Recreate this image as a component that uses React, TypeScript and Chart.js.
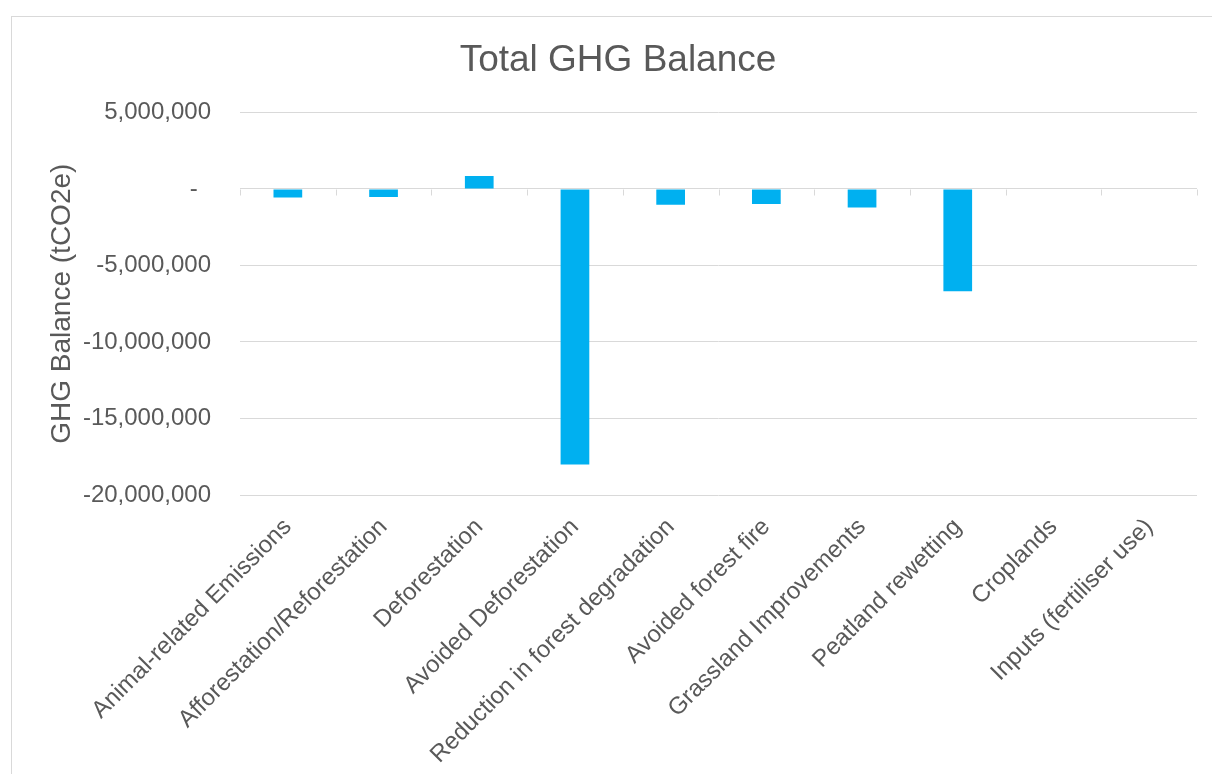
import React, { useEffect, useRef } from "react";
import { Chart, registerables } from "chart.js";

Chart.register(...registerables);

const categories: string[] = [
  "Animal-related Emissions",
  "Afforestation/Reforestation",
  "Deforestation",
  "Avoided Deforestation",
  "Reduction in forest degradation",
  "Avoided forest fire",
  "Grassland Improvements",
  "Peatland rewetting",
  "Croplands",
  "Inputs (fertiliser use)",
];

const ghgBalance: number[] = [
  -560000, -530000, 850000, -18000000, -1040000, -980000, -1220000, -6680000, 0, 0,
];

const yMin = -20000000;
const yMax = 5000000;
const yStep = 5000000;

const chartTitle = "Total GHG Balance";
const yAxisTitle = "GHG Balance (tCO2e)";

const FONT = "'Liberation Sans', Arial, Helvetica, sans-serif";
const TEXT = "#595959";
const GRID = "#d9d9d9";
const BAR = "#00B0F0";

const zeroTicks = {
  id: "zeroTicks",
  beforeDatasetsDraw(chart: any) {
    const { ctx } = chart;
    const xs = chart.scales.x;
    const ys = chart.scales.y;
    const y0 = Math.round(ys.getPixelForValue(0)) + 0.5;
    ctx.save();
    ctx.strokeStyle = GRID;
    ctx.lineWidth = 1;
    for (let i = 0; i <= categories.length; i++) {
      const px = Math.round(xs.getPixelForValue(i - 0.5)) + 0.5;
      ctx.beginPath();
      ctx.moveTo(px, y0);
      ctx.lineTo(px, y0 + 6);
      ctx.stroke();
    }
    ctx.restore();
  },
};

export default function App() {
  const ref = useRef<HTMLCanvasElement | null>(null);

  useEffect(() => {
    if (!ref.current) return;
    const chart = new Chart(ref.current, {
      type: "bar",
      data: {
        labels: categories,
        datasets: [
          {
            data: ghgBalance,
            backgroundColor: BAR,
            borderWidth: 0,
            barPercentage: 0.3,
            categoryPercentage: 1,
          },
        ],
      },
      plugins: [zeroTicks],
      options: {
        responsive: false,
        animation: false,
        events: [],
        layout: { padding: { left: 24, right: 0, top: 0, bottom: 0 } },
        plugins: {
          legend: { display: false },
          tooltip: { enabled: false },
          title: {
            display: true,
            text: chartTitle,
            color: TEXT,
            font: { family: FONT, size: 37, weight: "normal" },
            padding: { top: 39, bottom: 29 },
          },
        },
        scales: {
          x: {
            grid: { display: false },
            border: { display: false },
            ticks: {
              color: TEXT,
              font: { family: FONT, size: 24 },
              minRotation: 45,
              maxRotation: 45,
              autoSkip: false,
              padding: 10,
            },
            afterFit: (s: any) => {
              s.height = 279;
            },
          },
          y: {
            min: yMin,
            max: yMax,
            ticks: {
              stepSize: yStep,
              color: TEXT,
              font: { family: FONT, size: 24 },
              padding: 29,
              callback: (v: any) =>
                Number(v) === 0 ? "-  " : Number(v).toLocaleString("en-US"),
            },
            grid: { color: GRID, lineWidth: 1, drawTicks: false },
            border: { display: false },
            title: {
              display: true,
              text: yAxisTitle,
              color: TEXT,
              font: { family: FONT, size: 28 },
              padding: { top: 21, bottom: 0 },
            },
            afterFit: (s: any) => {
              s.width = 216;
            },
          },
          y2: {
            position: "right",
            display: true,
            grid: { display: false },
            border: { display: false },
            ticks: { display: false },
            afterFit: (s: any) => {
              s.width = 15;
            },
          },
        },
      } as any,
    });
    return () => chart.destroy();
  }, []);

  return (
    <div
      style={{
        position: "absolute",
        left: 0,
        top: 0,
        width: 1212,
        height: 774,
        overflow: "hidden",
        background: "#ffffff",
      }}
    >
      <div
        style={{
          position: "absolute",
          left: 11,
          top: 16,
          width: 1300,
          height: 900,
          border: "1px solid #d9d9d9",
        }}
      />
      <canvas
        ref={ref}
        width={1212}
        height={774}
        style={{ position: "absolute", left: 0, top: 0, width: 1212, height: 774 }}
      />
    </div>
  );
}
